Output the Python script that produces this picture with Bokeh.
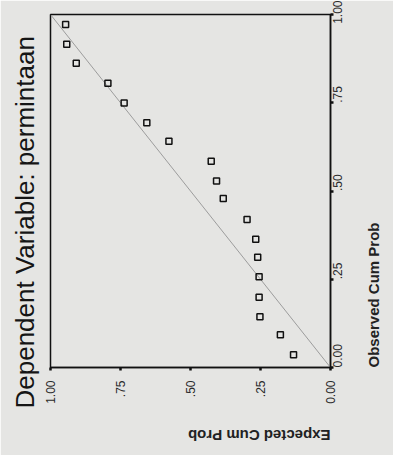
import math
from bokeh.plotting import figure
from bokeh.models import Range1d, FixedTicker, Title
from bokeh.embed import file_html
from bokeh.resources import INLINE

# Data: normal P-P plot of regression standardized residual (rotated view)
expected_cum_prob = [0.946, 0.942, 0.908, 0.795, 0.737, 0.656, 0.577, 0.426, 0.407,
                     0.383, 0.298, 0.267, 0.260, 0.255, 0.255, 0.252, 0.179, 0.132]
observed_cum_prob = [0.972, 0.916, 0.862, 0.805, 0.749, 0.693, 0.641, 0.584, 0.528,
                     0.479, 0.419, 0.363, 0.312, 0.257, 0.199, 0.144, 0.093, 0.036]
diag = [0.0, 1.0]
tick_values = [0.0, 0.25, 0.5, 0.75, 1.0]
tick_labels = ["0.00", ".25", ".50", ".75", "1.00"]

title_text = "Dependent Variable: permintaan"
x_title = "Expected Cum Prob"
y_title = "Observed Cum Prob"

BG = "#e5e5e3"
FONT = "Liberation Sans"

p = figure(width=393, height=455, x_range=Range1d(1, 0), y_range=Range1d(0, 1),
           output_backend="svg", toolbar_location=None, y_axis_location="right",
           min_border_left=48, min_border_top=14, min_border_right=62, min_border_bottom=88)
p.background_fill_color = BG
p.border_fill_color = BG
p.outline_line_color = "#111111"
p.outline_line_width = 1.5
p.xgrid.visible = False
p.ygrid.visible = False

overrides = {v: t for v, t in zip(tick_values, tick_labels)}
for ax in (p.xaxis[0], p.yaxis[0]):
    ax.ticker = FixedTicker(ticks=tick_values)
    ax.major_label_overrides = overrides
    ax.minor_tick_line_color = None
    ax.major_tick_in = 0
    ax.major_tick_out = 3
    ax.major_tick_line_width = 2.5
    ax.major_tick_line_color = "#111111"
    ax.axis_line_color = "#111111"
    ax.axis_line_width = 1.5
    ax.major_label_text_font = FONT
    ax.major_label_text_font_size = "12px"
    ax.major_label_text_color = "#2a2a2a"
    ax.major_label_orientation = math.pi / 2
    ax.axis_label_text_font = FONT
    ax.axis_label_text_font_size = "15px"
    ax.axis_label_text_font_style = "bold"
    ax.axis_label_text_color = "#222222"

xa = p.xaxis[0]
xa.major_label_standoff = 10
# the upside-down label sits towards the right end of the axis: pad its tail
xa.axis_label = x_title + "\u00a0" * 33
xa.axis_label_orientation = math.pi
xa.axis_label_standoff = 29
xa.axis_label_align = "end"

ya = p.yaxis[0]
ya.major_label_standoff = 4
ya.axis_label = y_title
ya.axis_label_orientation = math.pi / 2
ya.axis_label_standoff = 24
ya.axis_label_align = "start"

p.line(diag, diag, line_color="#9c9c9c", line_width=1)
p.scatter(expected_cum_prob, observed_cum_prob, marker="square", size=6,
          fill_color=None, line_color="#111111", line_width=1.5)

t = Title(text=title_text, align="left", offset=-41, standoff=18, vertical_align="top",
          text_font=FONT, text_font_size="26px", text_font_style="normal",
          text_color="#151515")
p.add_layout(t, "left")

open("out.html", "w").write(file_html(p, INLINE))
